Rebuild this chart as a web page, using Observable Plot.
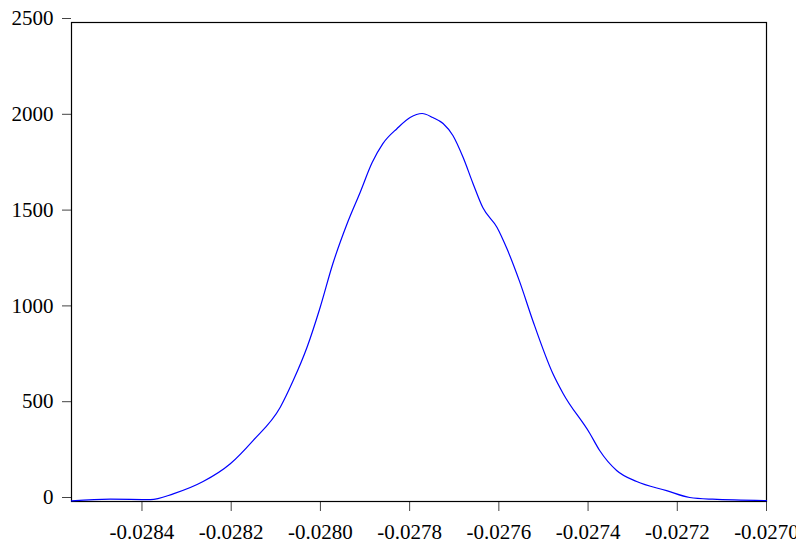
<!DOCTYPE html>
<html>
<head>
<meta charset="utf-8">
<script src="https://cdn.jsdelivr.net/npm/d3@7"></script>
<script src="https://cdn.jsdelivr.net/npm/@observablehq/plot@0.6"></script>
<style>
  html, body { margin: 0; padding: 0; background: white; overflow: hidden; }
</style>
</head>
<body>
<div id="chart"></div>
<script>
const xValues = [-0.028558, -0.028471, -0.028381, -0.028330, -0.028263, -0.028202, -0.028151, -0.028090, -0.028061, -0.028030,
  -0.028001, -0.027972, -0.027940, -0.027911, -0.027884, -0.027860, -0.027828, -0.027799, -0.027772, -0.027748,
  -0.027725, -0.027703, -0.027680, -0.027658, -0.027636, -0.027604, -0.027582, -0.027553, -0.027524, -0.027479,
  -0.027456, -0.027396, -0.027374, -0.027336, -0.027291, -0.027224, -0.027172, -0.027121, -0.027000];
const densityValues = [3, 12, 10, 40, 104, 197, 318, 492, 631, 805,
  1010, 1242, 1451, 1613, 1769, 1868, 1947, 2004, 2025, 2004,
  1973, 1910, 1795, 1660, 1534, 1430, 1320, 1145, 945, 668,
  564, 355, 266, 162, 104, 57, 21, 12, 5];
const xTicks = [-0.0284, -0.0282, -0.0280, -0.0278, -0.0276, -0.0274, -0.0272, -0.0270];
const yTicks = [0, 500, 1000, 1500, 2000, 2500];

const data = xValues.map((x, i) => ({x, y: densityValues[i]}));

const chart = Plot.plot({
  width: 796,
  height: 546,
  marginLeft: 71,
  marginRight: 30,
  marginTop: 22,
  marginBottom: 45,
  style: {fontFamily: "'Liberation Serif', serif", fontSize: "21px", background: "white", overflow: "visible"},
  x: {domain: [-0.028558, -0.0270]},
  y: {domain: [0, 2500]},
  marks: [
    Plot.axisX({ticks: xTicks, tickSize: 10, tickPadding: 13, tickFormat: d => d.toFixed(4), label: null, stroke: "#444", fill: "black", fontSize: 21}),
    Plot.axisY({ticks: yTicks, tickSize: 9, tickPadding: 9, tickFormat: d => String(d), label: null, stroke: "#444", fill: "black", fontSize: 21, dy: -4}),
    Plot.frame({stroke: "black", strokeWidth: 1.2}),
    Plot.line(data, {x: "x", y: "y", stroke: "#0000ff", strokeWidth: 1.2, curve: "monotone-x"})
  ]
});
document.getElementById("chart").appendChild(chart);
</script>
</body>
</html>
